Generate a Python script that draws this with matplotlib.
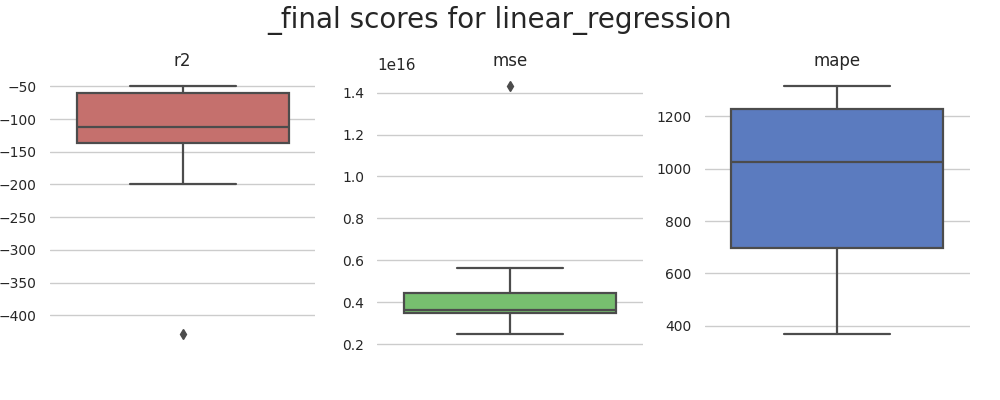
import matplotlib
matplotlib.use('Agg')
import matplotlib.pyplot as plt
import seaborn as sns

sns.set_theme(style='whitegrid')

# box statistics: low whisker, q1, median, q3, high whisker, outliers
metrics = ['r2', 'mse', 'mape']
whislo = [-200, 0.25e16, 370]
q1 = [-137, 0.35e16, 697]
med = [-112, 0.362e16, 1025]
q3 = [-60, 0.445e16, 1228]
whishi = [-50, 0.565e16, 1315]
fliers = [[-428], [1.43e16], []]
colors = ['#c5706d', '#77bf6f', '#5b7bbf']

fig, axes = plt.subplots(1, 3, figsize=(10, 4))
fig.subplots_adjust(left=0.05, right=0.97, top=0.815, bottom=0.135, wspace=0.234)

for i, ax in enumerate(axes):
    stats = [dict(whislo=whislo[i], q1=q1[i], med=med[i], q3=q3[i],
                  whishi=whishi[i], fliers=fliers[i])]
    line = dict(color='#4c4c4c', linewidth=1.6)
    ax.bxp(stats, positions=[0], widths=0.8, patch_artist=True,
           boxprops=dict(facecolor=colors[i], edgecolor='#4c4c4c', linewidth=1.6),
           medianprops=line, whiskerprops=line, capprops=line,
           flierprops=dict(marker='d', markersize=5, markerfacecolor='#4c4c4c',
                           markeredgecolor='#4c4c4c'),
           capwidths=0.4)
    ax.set_xlim(-0.5, 0.5)
    ax.set_xticks([])
    ax.set_title(metrics[i], fontsize=12)
    ax.grid(axis='x', visible=False)
    for s in ax.spines.values():
        s.set_visible(False)
    ax.tick_params(axis='y', labelsize=10)

fig.suptitle('_final scores for linear_regression', fontsize=20, y=0.985)
fig.savefig('out.png', dpi=100)
